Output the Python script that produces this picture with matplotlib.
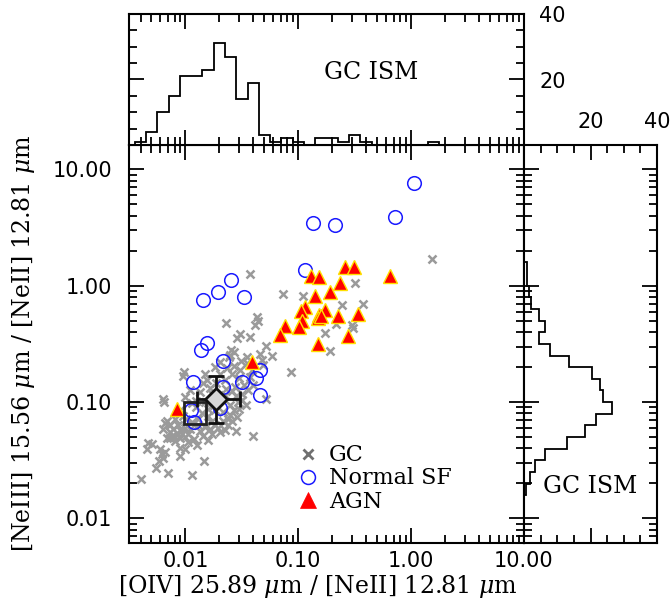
import numpy as np
import matplotlib
matplotlib.use('Agg')
import matplotlib.pyplot as plt
from matplotlib.ticker import FixedLocator, FixedFormatter, LogLocator, NullFormatter, MultipleLocator
from matplotlib.lines import Line2D

plt.rcParams['font.family'] = ['DejaVu Sans']
plt.rcParams['mathtext.fontset'] = 'dejavuserif'

# ---------------- data ----------------
gc_x = [1.53, 0.0372, 0.0727, 0.109, 0.321, 0.246, 0.377, 0.218, 0.300, 0.308, 0.174, 0.189,
        0.0228, 0.0428, 0.0411, 0.0437, 0.0303, 0.0285, 0.0372, 0.0253, 0.0269, 0.0243, 0.0350,
        0.0350, 0.0474, 0.0490, 0.0516, 0.0580, 0.0855, 0.0516, 0.0395, 0.0258, 0.0303, 0.0274,
        0.0316, 0.0291, 0.0372, 0.0395, 0.0357, 0.0343, 0.0285, 0.0238, 0.0247, 0.0183, 0.0202,
        0.0233, 0.0258, 0.0149, 0.0155, 0.00972, 0.00953, 0.00634, 0.00647, 0.00689, 0.00661,
        0.00634, 0.00731, 0.00777, 0.00731, 0.00810, 0.00689, 0.00861, 0.00597, 0.00621, 0.00661,
        0.00634, 0.00585, 0.00468, 0.00507, 0.00458, 0.00406, 0.00550, 0.00702, 0.0114, 0.0146,
        0.00896, 0.00896, 0.00991, 0.0127, 0.0101, 0.0114, 0.0129, 0.0149, 0.0110, 0.0135,
        0.0165, 0.0183, 0.0172, 0.0202, 0.00861, 0.00810, 0.00896, 0.00953, 0.00731, 0.0158,
        0.0183, 0.0215, 0.0238, 0.0194, 0.0224, 0.0247, 0.0149, 0.0135, 0.0165, 0.0143, 0.0186,
        0.0224, 0.0110, 0.0124, 0.00991, 0.0172, 0.0202, 0.0460, 0.0280,
        0.0078, 0.0089, 0.0099, 0.0093, 0.0105, 0.0078, 0.0099, 0.0089, 0.0120, 0.0105, 0.0160,
        0.0142,
        0.0215, 0.0250, 0.0270, 0.0300, 0.0320, 0.0280, 0.0260, 0.0230, 0.0180, 0.0160, 0.0140,
        0.0130, 0.0170, 0.0195, 0.0225, 0.0125, 0.0115, 0.0330, 0.0300, 0.0270, 0.0310, 0.0390]
gc_y = [1.69, 1.26, 0.845, 0.812, 1.05, 0.679, 0.690, 0.466, 0.457, 0.430, 0.390, 0.273,
        0.475, 0.535, 0.457, 0.500, 0.382, 0.353, 0.360, 0.278, 0.268, 0.242, 0.242,
        0.215, 0.228, 0.207, 0.301, 0.247, 0.180, 0.107, 0.0512, 0.0694, 0.187, 0.136,
        0.118, 0.0993, 0.163, 0.140, 0.126, 0.0935, 0.0751, 0.0722, 0.252, 0.200, 0.176,
        0.195, 0.176, 0.176, 0.154, 0.180, 0.169, 0.107, 0.0993, 0.0694, 0.0656,
        0.0592, 0.0553, 0.0521, 0.0493, 0.0467, 0.0487, 0.0536, 0.0399, 0.0361, 0.0370,
        0.0332, 0.0314, 0.0449, 0.0440, 0.0399, 0.0220, 0.0274, 0.0248, 0.0236, 0.0314,
        0.0406, 0.0347, 0.0399, 0.0424, 0.0722, 0.0668, 0.0630, 0.0616, 0.0592, 0.0569,
        0.0592, 0.0630, 0.0536, 0.0556, 0.0630, 0.0722, 0.0847, 0.0766, 0.0630, 0.0766,
        0.0847, 0.0694, 0.0641, 0.103, 0.114, 0.0935, 0.0993, 0.121, 0.131, 0.145, 0.145,
        0.154, 0.126, 0.103, 0.110, 0.118, 0.220, 0.257, 0.0569,
        0.059, 0.057, 0.060, 0.053, 0.053, 0.051, 0.050, 0.049, 0.048, 0.045, 0.047,
        0.051,
        0.082, 0.078, 0.085, 0.088, 0.105, 0.112, 0.125, 0.130, 0.095, 0.088, 0.080,
        0.072, 0.068, 0.060, 0.058, 0.091, 0.099, 0.140, 0.160, 0.205, 0.225, 0.190]

sf_x = [1.05, 0.72, 0.135, 0.213, 0.114, 0.0251, 0.0193, 0.0144, 0.0331, 0.0156, 0.0136,
        0.0213, 0.0116, 0.0318, 0.0426, 0.0455, 0.0455, 0.0213, 0.0202, 0.0111, 0.0119]
sf_y = [7.69, 3.87, 3.43, 3.30, 1.36, 1.11, 0.885, 0.75, 0.80, 0.324, 0.278,
        0.224, 0.148, 0.150, 0.161, 0.187, 0.114, 0.134, 0.089, 0.085, 0.067]

agn_x = [0.130, 0.152, 0.260, 0.310, 0.648, 0.235, 0.192, 0.142, 0.115, 0.106, 0.174, 0.154,
         0.149, 0.160, 0.227, 0.336, 0.108, 0.1007, 0.0768, 0.0684, 0.274, 0.149, 0.0389, 0.0084]
agn_y = [1.21, 1.19, 1.44, 1.45, 1.21, 1.06, 0.885, 0.81, 0.65, 0.607, 0.624, 0.557,
         0.532, 0.545, 0.546, 0.568, 0.50, 0.442, 0.448, 0.375, 0.367, 0.313, 0.221, 0.0875]

gc_mean_x, gc_mean_y = 0.0186, 0.107
gc_mean_xerr = [[0.0060], [0.0117]]
gc_mean_yerr = [[0.041], [0.062]]
gc_median_x, gc_median_y = 0.0121, 0.080

# top histogram (log10 of x ratio, bins of 0.1 dex starting at -2.45)
top_hist_start = -2.45
top_hist_counts = [1, 4, 10, 15, 21, 21, 23, 31, 27, 14, 19, 3, 1, 2, 1, 0, 2, 2, 1, 3, 1,
                   0, 0, 0, 0, 0, 1]
# right histogram (log10 of y ratio, bins of 0.1 dex starting at -1.8)
right_hist_start = -1.8
right_hist_counts = [0.5, 1.7, 3.4, 6.3, 13, 18.4, 21.8, 26.4, 23.7, 22.8, 20.4, 13.5, 7.8,
                     4.4, 6.4, 4.4, 2, 1.5, 1, 1]

main_ticks = [0.01, 0.1, 1, 10]
main_ticklabels = ['0.01', '0.10', '1.00', '10.00']
hist_ticks = [0, 20, 40]
hist_ticklabels = ['', '20', '40']

# ---------------- figure ----------------
W, H = 670, 611
fig = plt.figure(figsize=(W / 100, H / 100), dpi=100)
L, R = 129 / W, 524 / W
B, T = 1 - 543 / H, 1 - 145 / H
TT = 1 - 14 / H
RR = 657 / W

ax = fig.add_axes([L, B, R - L, T - B])
axt = fig.add_axes([L, T, R - L, TT - T])
axr = fig.add_axes([R, B, RR - R, T - B])

SPINE_LW = 1.5
for a in (ax, axt, axr):
    for s in a.spines.values():
        s.set_linewidth(SPINE_LW)
    a.tick_params(which='both', direction='in', top=True, right=True, bottom=True, left=True,
                  width=1.3, labelsize=15)
    a.tick_params(which='major', length=11)
    a.tick_params(which='minor', length=6)

# main scatter
ax.plot(gc_x, gc_y, linestyle='none', marker='x', ms=5.5, mew=1.8, color='#9a9a9a', zorder=2)
ax.plot(sf_x, sf_y, linestyle='none', marker='o', ms=9.8, mfc='none', mec='#1a1aff', mew=1.1,
        zorder=3)
ax.plot(agn_x, agn_y, linestyle='none', marker='^', ms=10.5, mfc='#ff0000', mec='#ffe000',
        mew=1.0, zorder=4)
ax.plot([gc_median_x], [gc_median_y], linestyle='none', marker='s', ms=16, mfc='none',
        mec='#222222', mew=2.0, zorder=5)
ax.errorbar([gc_mean_x], [gc_mean_y], xerr=gc_mean_xerr, yerr=gc_mean_yerr, fmt='D', ms=11,
            mfc='#d8d8d8', mec='#111111', mew=2.0, ecolor='#111111', elinewidth=2.0,
            capsize=6, capthick=2.0, zorder=6)

ax.set_xscale('log')
ax.set_yscale('log')
ax.set_xlim(0.00316, 10)
ax.set_ylim(0.00615, 16.2)
for axis in (ax.xaxis, ax.yaxis):
    axis.set_major_locator(FixedLocator(main_ticks))
    axis.set_major_formatter(FixedFormatter(main_ticklabels))
    axis.set_minor_locator(LogLocator(base=10, subs=np.arange(2, 10), numticks=20))
    axis.set_minor_formatter(NullFormatter())
ax.tick_params(axis='x', which='major', pad=6)
ax.tick_params(axis='y', which='major', pad=12)

ax.set_xlabel(r'[OIV] 25.89 $\mu$m / [NeII] 12.81 $\mu$m', family='DejaVu Serif', fontsize=17,
              va='center')
ax.xaxis.set_label_coords(0.478, -0.11)
ax.set_ylabel(r'[NeIII] 15.56 $\mu$m / [NeII] 12.81 $\mu$m', family='DejaVu Serif', fontsize=17,
              va='center')
ax.yaxis.set_label_coords(-0.268, 0.501)

handles = [
    Line2D([], [], linestyle='none', marker='x', ms=7, mew=2.0, color='#707070'),
    Line2D([], [], linestyle='none', marker='o', ms=10, mfc='none', mec='#1a1aff', mew=1.1),
    Line2D([], [], linestyle='none', marker='^', ms=11, mfc='#ff0000', mec='#ff0000', mew=0.5),
]
ax.legend(handles, ['GC', 'Normal SF', 'AGN'], loc='upper left', bbox_to_anchor=(0.425, 0.248),
          frameon=False, borderpad=0, borderaxespad=0, handlelength=1.0, handletextpad=0.45,
          labelspacing=0.05, prop={'family': 'DejaVu Serif', 'size': 16})

# top histogram
top_edges = 10 ** (top_hist_start + 0.1 * np.arange(len(top_hist_counts) + 1))
axt.stairs(top_hist_counts, top_edges, color='black', linewidth=1.3)
axt.set_xscale('log')
axt.set_xlim(ax.get_xlim())
axt.set_ylim(0, 40)
axt.xaxis.set_major_locator(FixedLocator(main_ticks))
axt.xaxis.set_minor_locator(LogLocator(base=10, subs=np.arange(2, 10), numticks=20))
axt.xaxis.set_minor_formatter(NullFormatter())
axt.yaxis.set_major_locator(FixedLocator(hist_ticks))
axt.yaxis.set_major_formatter(FixedFormatter(hist_ticklabels))
axt.yaxis.set_minor_locator(MultipleLocator(5))
axt.tick_params(axis='x', labelbottom=False)
axt.tick_params(axis='y', labelleft=False, labelright=True, pad=11)
axt.text(0.613, 0.557, 'GC ISM', transform=axt.transAxes, ha='center', va='center',
         family='DejaVu Serif', fontsize=17)

# right histogram
right_edges = 10 ** (right_hist_start + 0.1 * np.arange(len(right_hist_counts) + 1))
axr.stairs(right_hist_counts, right_edges, orientation='horizontal', color='black', linewidth=1.3)
axr.set_yscale('log')
axr.set_ylim(ax.get_ylim())
axr.set_xlim(0, 40)
axr.yaxis.set_major_locator(FixedLocator(main_ticks))
axr.yaxis.set_minor_locator(LogLocator(base=10, subs=np.arange(2, 10), numticks=20))
axr.yaxis.set_minor_formatter(NullFormatter())
axr.xaxis.set_major_locator(FixedLocator(hist_ticks))
axr.xaxis.set_major_formatter(FixedFormatter(hist_ticklabels))
axr.xaxis.set_minor_locator(MultipleLocator(5))
axr.tick_params(axis='y', labelleft=False)
axr.tick_params(axis='x', labelbottom=False, labeltop=True, pad=9)
axr.text(0.496, 0.143, 'GC ISM', transform=axr.transAxes, ha='center', va='center',
         family='DejaVu Serif', fontsize=17)

fig.savefig('out.png', dpi=100)
